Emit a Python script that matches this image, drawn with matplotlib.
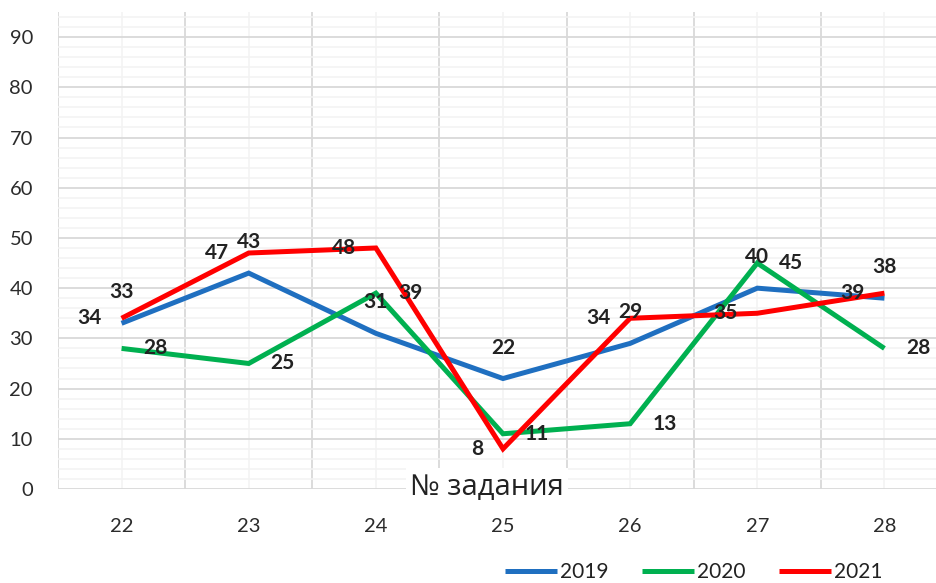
import numpy as np
import matplotlib.pyplot as plt
from matplotlib.ticker import MultipleLocator

# chart data
tasks = [22, 23, 24, 25, 26, 27, 28]
y2019 = [33, 43, 31, 22, 29, 40, 38]
y2020 = [28, 25, 39, 11, 13, 45, 28]
y2021 = [34, 47, 48, 8, 34, 35, 39]
years = ['2019', '2020', '2021']
colors = ['#1f6fc0', '#00b050', '#ff0000']

plt.rcParams['font.family'] = ['Lato', 'DejaVu Sans']

W, H = 937, 583
fig = plt.figure(figsize=(W / 100, H / 100), dpi=100)
# plot area runs past the right edge of the picture (cropped Excel chart)
ax = fig.add_axes([58 / W, 1 - 489 / H, 890 / W, 477 / H])

x = np.array(tasks)
series = [y2019, y2020, y2021]
for vals, c, lab in zip(series, colors, years):
    ax.plot(x, vals, color=c, lw=3.6, label=lab, solid_joinstyle='miter',
            solid_capstyle='butt', zorder=3)

ax.set_xlim(21.5, 28.5)
ax.set_ylim(0, 95)

ax.set_xticks(tasks)
ax.set_xticks(np.arange(21.5, 28.6, 1), minor=True)
ax.yaxis.set_minor_locator(MultipleLocator(2))
ax.set_yticks(np.arange(0, 91, 10))

ax.grid(which='major', axis='y', color='#d9d9d9', lw=1.3, zorder=0)
ax.grid(which='minor', axis='y', color='#f3f3f3', lw=1.1, zorder=0)
ax.grid(which='minor', axis='x', color='#d9d9d9', lw=1.3, zorder=0)
ax.grid(which='major', axis='x', color='#f3f3f3', lw=1.1, zorder=0)
ax.set_axisbelow(True)

for s in ax.spines.values():
    s.set_visible(False)
ax.tick_params(which='both', length=0)
ax.tick_params(axis='x', labelsize=14.5, labelcolor='#2b2b2b', pad=21)
ax.tick_params(axis='y', labelsize=14.5, labelcolor='#2b2b2b', pad=18)

# data labels: 2019 above, 2020 right, 2021 left
lab_style = dict(textcoords='offset pixels', fontsize=15, fontweight='bold',
                 color='#222222', zorder=4)
for xi, v in zip(tasks, y2019):
    ax.annotate(str(v), (xi, v), xytext=(0, 31), ha='center', va='center', **lab_style)
for xi, v in zip(tasks, y2020):
    ax.annotate(str(v), (xi, v), xytext=(22, 0), ha='left', va='center', **lab_style)
for xi, v in zip(tasks, y2021):
    ax.annotate(str(v), (xi, v), xytext=(-20, 0), ha='right', va='center', **lab_style)

# axis title sits inside the plot on a white box
fig.text(487 / W, 1 - 487 / H, '№ задания', ha='center', va='center',
         fontsize=21, color='#222222', family=['Open Sans', 'DejaVu Sans'],
         bbox=dict(facecolor='white', edgecolor='none', pad=3), zorder=5)

fig.legend(loc='center', bbox_to_anchor=(694 / W, 1 - 572 / H), ncol=3,
           frameon=False, fontsize=15, handlelength=2.5, handletextpad=0.15,
           columnspacing=1.6, labelcolor='#222222')

fig.savefig('out.png', dpi=100)
